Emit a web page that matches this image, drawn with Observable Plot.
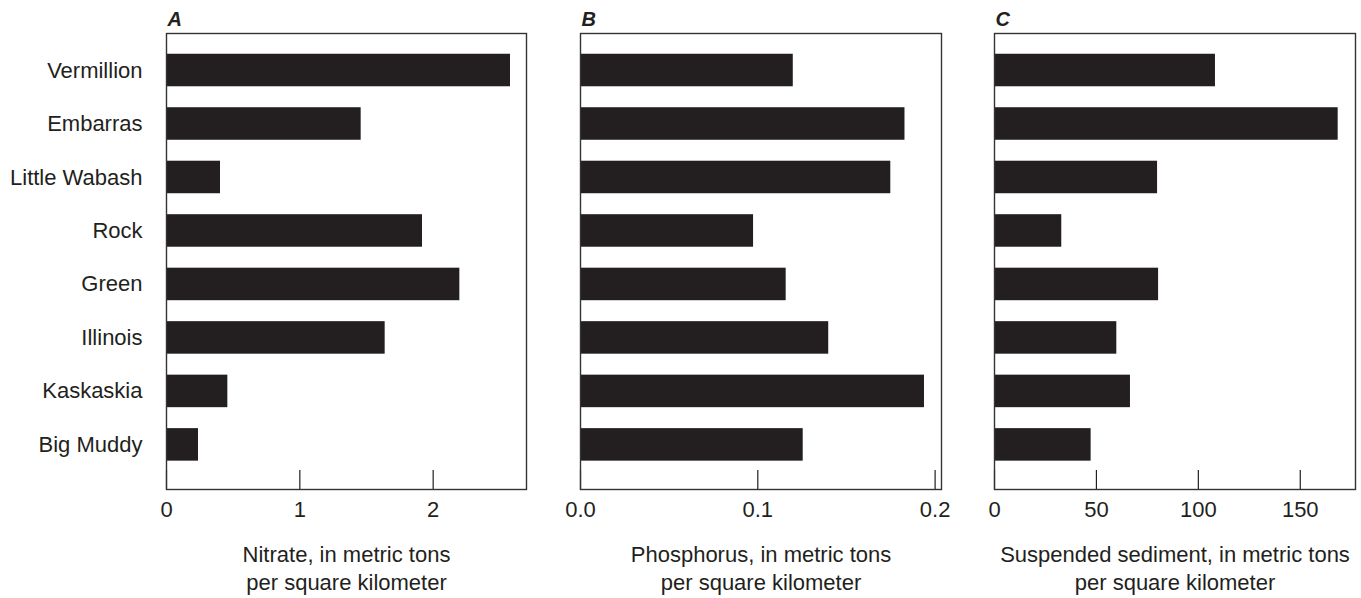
<!DOCTYPE html>
<html>
<head>
<meta charset="utf-8">
<script src="https://cdn.jsdelivr.net/npm/d3@7"></script>
<script src="https://cdn.jsdelivr.net/npm/@observablehq/plot@0.6"></script>
<style>
  html, body { margin: 0; padding: 0; background: #fff; }
  #chart { position: relative; width: 1361px; height: 598px; overflow: hidden; }
  #chart > div { position: absolute; top: 0; }
  svg { display: block; overflow: visible; }
</style>
</head>
<body>
<div id="chart"></div>
<script>
// River basins, top to bottom
const rivers = ["Vermillion", "Embarras", "Little Wabash", "Rock", "Green", "Illinois", "Kaskaskia", "Big Muddy"];

// Yields, in metric tons per square kilometer
const nitrate = [2.58, 1.46, 0.405, 1.92, 2.20, 1.64, 0.46, 0.24];
const phosphorus = [0.120, 0.183, 0.175, 0.0976, 0.116, 0.140, 0.194, 0.1256];
const sediment = [108.4, 168.6, 80, 33, 80.5, 60, 66.7, 47.4];

// Axis ticks
const nitrateTicks = [0, 1, 2];
const phosphorusTicks = [0, 0.1, 0.2];
const sedimentTicks = [0, 50, 100, 150];

const INK = "#231f20";
const FONT = "'Liberation Sans', Arial, sans-serif";
const H = 598, MT = 33, MB = 109;

function panel({letter, values, xMax, ticks, tickFormat, title, left, width, marginLeft, marginRight, showY}) {
  const data = rivers.map((r, i) => ({river: r, value: values[i]}));
  const plotH = H - MT - MB;
  const marks = [
    Plot.barX(data, {x: "value", y: "river", fill: INK}),
    Plot.ruleX(ticks, {x: d => d, stroke: INK, strokeWidth: 1.2, insetTop: plotH - 19}),
    Plot.frame({stroke: "#333", strokeWidth: 1.4}),
    Plot.axisX(ticks, {tickSize: 0, tickPadding: 12, tickFormat, label: null, fontSize: 22, fill: INK}),
    Plot.text([letter], {frameAnchor: "top-left", dx: 1, dy: -8, lineAnchor: "bottom", textAnchor: "start",
      fontSize: 20, fontWeight: "bold", fontStyle: "italic", fill: INK}),
    Plot.text([title], {frameAnchor: "bottom", dy: 53, lineAnchor: "top", lineHeight: 1.27,
      fontSize: 22, fill: INK})
  ];
  if (showY) marks.push(Plot.axisY({tickSize: 0, tickPadding: 24, label: null, fontSize: 22, fill: INK}));
  const chart = Plot.plot({
    width, height: H,
    marginTop: MT, marginBottom: MB, marginLeft, marginRight,
    style: {fontFamily: FONT, color: INK, background: "transparent", overflow: "visible"},
    x: {domain: [0, xMax], axis: null, label: null},
    y: {domain: rivers, paddingInner: 0.392, paddingOuter: 0.3, insetTop: 4.7, insetBottom: 12.3, round: false, axis: showY ? undefined : null, label: null},
    marks
  });
  const wrap = document.createElement("div");
  wrap.style.left = left + "px";
  wrap.appendChild(chart);
  document.getElementById("chart").appendChild(wrap);
}

panel({letter: "A", values: nitrate, xMax: 2.70, ticks: nitrateTicks, tickFormat: d => String(d),
  title: "Nitrate, in metric tons\nper square kilometer",
  left: 0, width: 540, marginLeft: 166, marginRight: 14, showY: true});

panel({letter: "B", values: phosphorus, xMax: 0.2036, ticks: phosphorusTicks, tickFormat: d => d.toFixed(1),
  title: "Phosphorus, in metric tons\nper square kilometer",
  left: 540, width: 420, marginLeft: 40, marginRight: 19, showY: false});

panel({letter: "C", values: sediment, xMax: 177.1, ticks: sedimentTicks, tickFormat: d => String(d),
  title: "Suspended sediment, in metric tons\nper square kilometer",
  left: 960, width: 401, marginLeft: 34, marginRight: 6, showY: false});
</script>
</body>
</html>
